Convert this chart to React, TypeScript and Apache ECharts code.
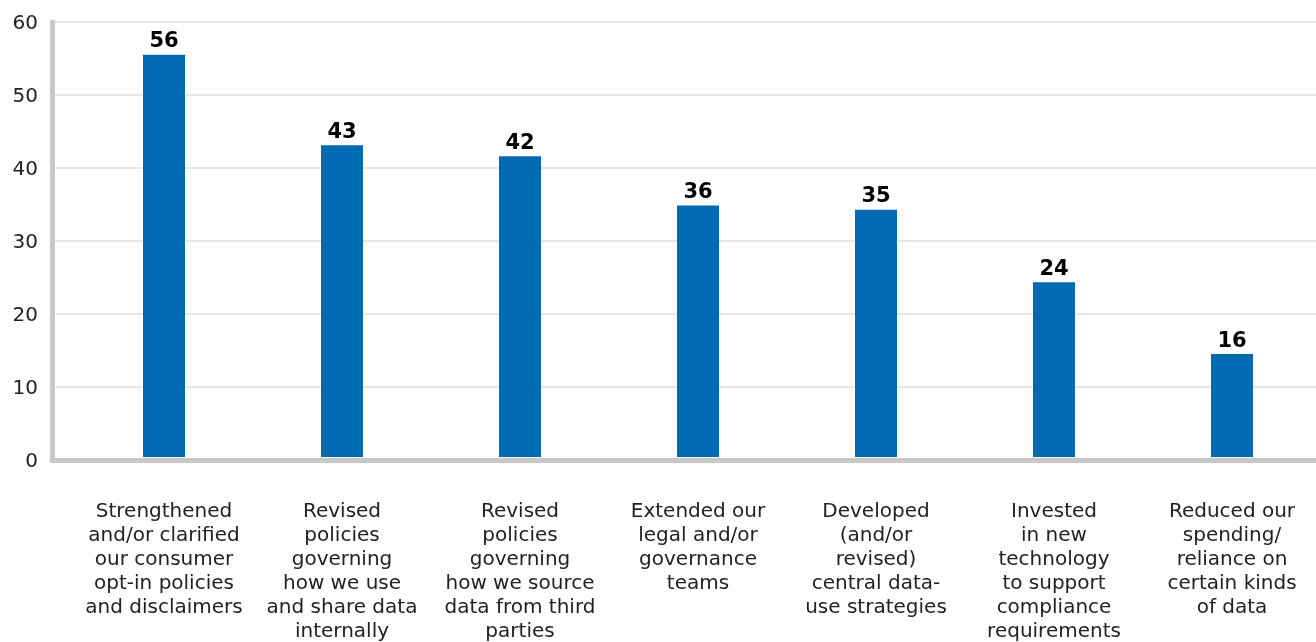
import React, { useEffect, useRef } from "react";
import * as echarts from "echarts";

const categories = [
  "Strengthened\nand/or clarified\nour consumer\nopt-in policies\nand disclaimers",
  "Revised\npolicies\ngoverning\nhow we use\nand share data\ninternally",
  "Revised\npolicies\ngoverning\nhow we source\ndata from third\nparties",
  "Extended our\nlegal and/or\ngovernance\nteams",
  "Developed\n(and/or\nrevised)\ncentral data-\nuse strategies",
  "Invested\nin new\ntechnology\nto support\ncompliance\nrequirements",
  "Reduced our\nspending/\nreliance on\ncertain kinds\nof data",
];
const barValues = [55.5, 43.0, 41.5, 34.7, 34.1, 24.1, 14.2];
const valueLabels = ["56", "43", "42", "36", "35", "24", "16"];
const yMin = 0;
const yMax = 60;
const yInterval = 10;

export default function App() {
  const ref = useRef<HTMLDivElement>(null);
  useEffect(() => {
    if (!ref.current) return;
    const chart = echarts.init(ref.current, null, { renderer: "svg" });
    const font = "DejaVu Sans";
    chart.setOption({
      animation: false,
      grid: [
        { left: 52, right: 24, top: 22, bottom: 182 },
        { left: 75, width: 1246, top: 22, bottom: 182 },
      ],
      xAxis: [
        {
          type: "category",
          gridIndex: 0,
          data: categories,
          axisLine: { show: true, lineStyle: { color: "#c8c8c8", width: 5 } },
          axisTick: { show: false },
          axisLabel: { show: false },
          splitLine: { show: false },
        },
        {
          type: "category",
          gridIndex: 1,
          data: categories,
          axisLine: { show: false },
          axisTick: { show: false },
          axisLabel: {
            interval: 0,
            margin: 41,
            color: "#222",
            fontFamily: font,
            fontSize: 20,
            lineHeight: 24,
            align: "center",
          },
        },
      ],
      yAxis: [
        {
          type: "value",
          gridIndex: 0,
          min: yMin,
          max: yMax,
          interval: yInterval,
          axisLine: { show: true, lineStyle: { color: "#c8c8c8", width: 5 } },
          axisTick: { show: false },
          axisLabel: { color: "#222", fontFamily: font, fontSize: 20, margin: 14 },
          splitLine: { show: true, lineStyle: { color: "#e6e6e6", width: 2 } },
        },
        {
          type: "value",
          gridIndex: 1,
          min: yMin,
          max: yMax,
          interval: yInterval,
          show: false,
          splitLine: { show: false },
        },
      ],
      series: [
        {
          type: "bar",
          xAxisIndex: 1,
          yAxisIndex: 1,
          data: barValues,
          barWidth: 42,
          itemStyle: { color: "#006bb3" },
          label: {
            show: true,
            position: "top",
            distance: 4,
            color: "#000",
            fontFamily: font,
            fontWeight: "bold",
            fontSize: 21,
            formatter: (p: any) => valueLabels[p.dataIndex],
          },
        },
      ],
    });
    return () => chart.dispose();
  }, []);
  return (
    <div
      style={{
        position: "fixed",
        left: 0,
        top: 0,
        width: 1316,
        height: 642,
        overflow: "hidden",
      }}
    >
      <div ref={ref} style={{ width: 1340, height: 642 }} />
    </div>
  );
}
